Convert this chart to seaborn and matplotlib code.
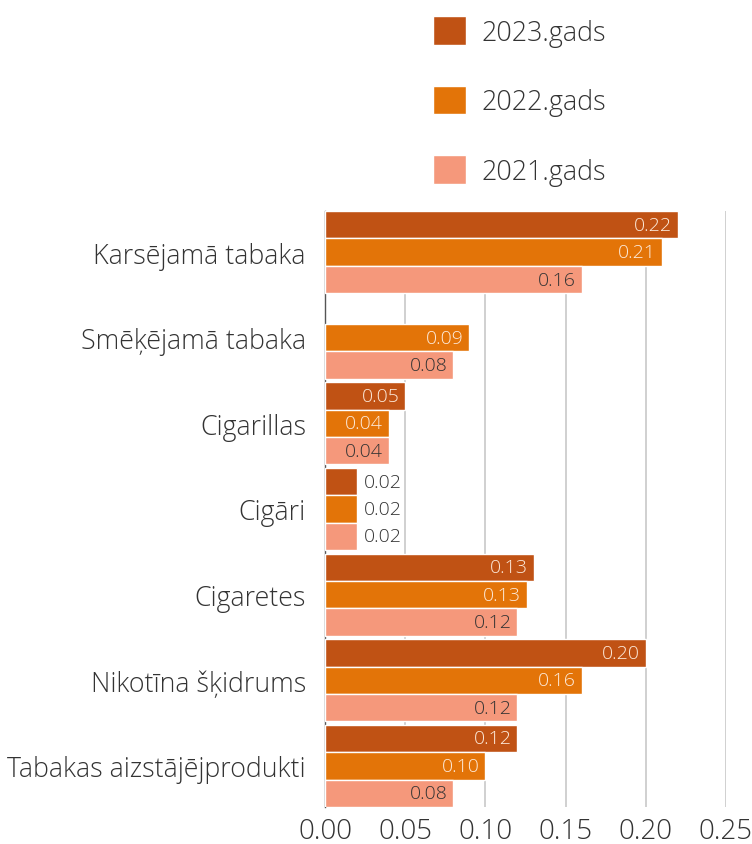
import pandas as pd
import seaborn as sns
import matplotlib
import matplotlib.pyplot as plt
from matplotlib.patches import Patch

matplotlib.use('Agg')

categories = ['Karsējamā tabaka', 'Smēķējamā tabaka', 'Cigarillas', 'Cigāri',
              'Cigaretes', 'Nikotīna šķidrums', 'Tabakas aizstājējprodukti']
years = ['2023.gads', '2022.gads', '2021.gads']
vals_2023 = [0.22, None, 0.05, 0.02, 0.13, 0.20, 0.12]
vals_2022 = [0.21, 0.09, 0.04, 0.02, 0.126, 0.16, 0.10]
vals_2021 = [0.16, 0.08, 0.04, 0.02, 0.12, 0.12, 0.08]
colors = ['#C05214', '#E37408', '#F5987B']
label_colors = ['#FDEBDC', '#FDEBDC', '#333333']

rows = []
for year, vals in zip(years, [vals_2023, vals_2022, vals_2021]):
	for cat, v in zip(categories, vals):
		if v is not None:
			rows.append({'Kategorija': cat, 'Gads': year, 'Vērtība': v})
df = pd.DataFrame(rows)

sns.set_style('white')
plt.rcParams['font.family'] = ['Open Sans', 'DejaVu Sans']
plt.rcParams['font.weight'] = 'light'
plt.rcParams['text.color'] = '#333333'

fig = plt.figure(figsize=(7.52, 8.45), dpi=100)
ax = fig.add_axes([0.4322, 0.0438, 0.5332, 0.7053])

sns.barplot(data=df, y='Kategorija', x='Vērtība', hue='Gads', order=categories,
			hue_order=years, palette=colors, saturation=1, width=0.96, orient='h',
			edgecolor='white', linewidth=1, legend=False, ax=ax, zorder=3)

# value labels
for i, cont in enumerate(ax.containers):
	for bar in cont:
		w = bar.get_width()
		if w != w or w <= 0:
			continue
		y = bar.get_y() + bar.get_height() / 2
		txt = f"{round(w, 2):.2f}"
		if w > 0.03:
			ax.text(w - 0.0037, y, txt, ha='right', va='center', fontsize=14,
					color=label_colors[i], fontweight='light', zorder=4)
		else:
			ax.text(w + 0.0043, y, txt, ha='left', va='center', fontsize=14,
					color='#333333', fontweight='light', zorder=4)

ax.set_xlim(0, 0.25)
ax.set_ylim(6.48, -0.48)
ax.set_xticks([0, 0.05, 0.10, 0.15, 0.20, 0.25])
ax.set_xticklabels([f"{t:.2f}" for t in ax.get_xticks()])
ax.xaxis.grid(True, color='#C8C8C8', linewidth=1.2, zorder=0)
ax.set_axisbelow(True)
ax.set_xlabel('')
ax.set_ylabel('')
ax.tick_params(axis='x', labelsize=20, length=0, pad=7, colors='#333333')
ax.tick_params(axis='y', labelsize=19.3, length=0, pad=13.7, colors='#333333')
for s in ['top', 'right', 'bottom']:
	ax.spines[s].set_visible(False)
ax.spines['left'].set_color('#555555')
ax.spines['left'].set_linewidth(1)

handles = [Patch(facecolor=c, edgecolor='white', label=y) for c, y in zip(colors, years)]
fig.legend(handles=handles, loc='upper left', bbox_to_anchor=(0.543, 1.008),
		   frameon=False, fontsize=19.4, handlelength=1.25, handleheight=1.25,
		   labelspacing=1.45, handletextpad=0.55)

plt.savefig('out.png', dpi=100)
